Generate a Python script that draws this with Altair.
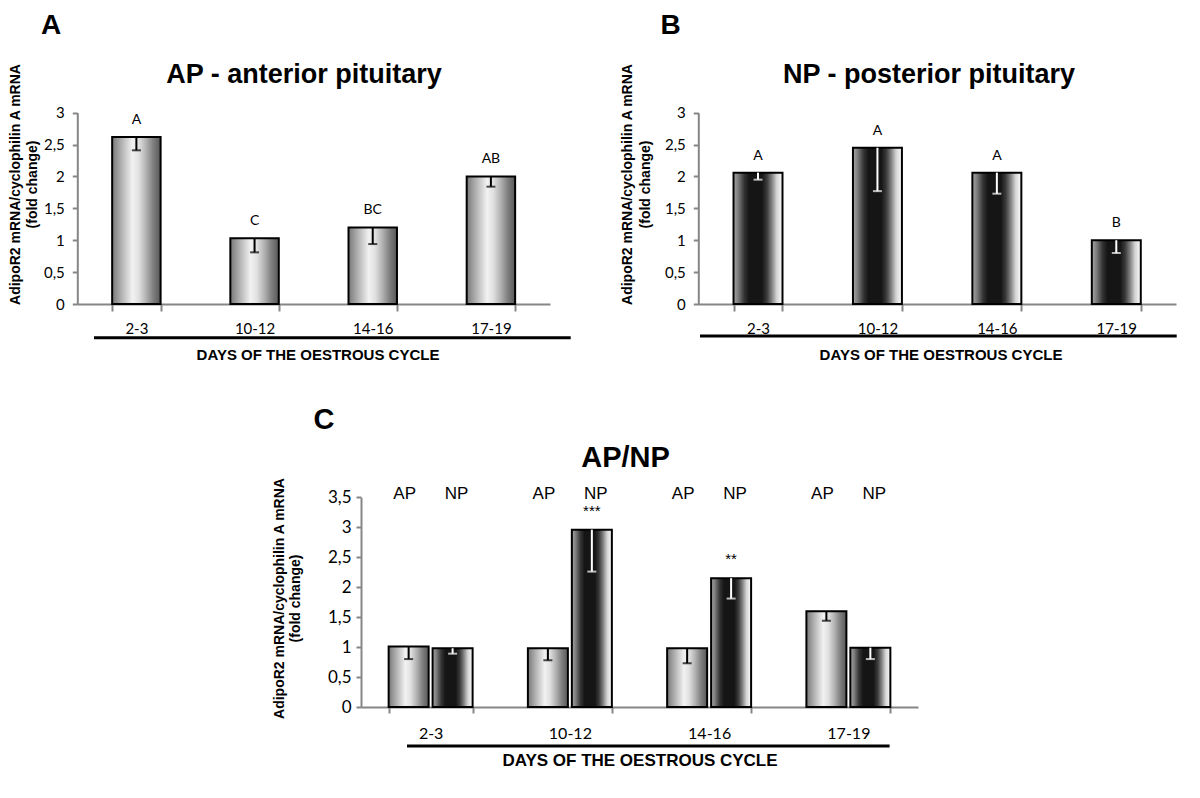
import altair as alt
import pandas as pd

# ---------------- data ----------------
days = ["2-3", "10-12", "14-16", "17-19"]

ap_mean = [2.62, 1.03, 1.20, 2.00]
ap_low = [2.41, 0.81, 0.94, 1.84]
ap_letters = ["A", "C", "BC", "AB"]

np_mean = [2.06, 2.45, 2.06, 1.00]
np_low = [1.95, 1.77, 1.73, 0.80]
np_letters = ["A", "A", "A", "B"]

tissues = ["AP", "NP"]
c_ap_mean = [1.01, 0.98, 0.98, 1.60]
c_ap_low = [0.80, 0.78, 0.73, 1.44]
c_np_mean = [0.98, 2.96, 2.15, 0.99]
c_np_low = [0.89, 2.26, 1.81, 0.80]
c_np_stars = ["", "***", "**", ""]

y_ticks_ab = [0, 0.5, 1, 1.5, 2, 2.5, 3]
y_ticks_c = [0, 0.5, 1, 1.5, 2, 2.5, 3, 3.5]

ytitle = ["AdipoR2 mRNA/cyclophilin A mRNA", "(fold change)"]
xtitle = "DAYS OF THE OESTROUS CYCLE"

dfA = pd.DataFrame({"day": days, "mean": ap_mean, "low": ap_low, "letter": ap_letters})
dfB = pd.DataFrame({"day": days, "mean": np_mean, "low": np_low, "letter": np_letters})
dfC = pd.DataFrame({
    "day": days * 2,
    "tissue": [tissues[0]] * 4 + [tissues[1]] * 4,
    "mean": c_ap_mean + c_np_mean,
    "low": c_ap_low + c_np_low,
    "star": [""] * 4 + c_np_stars,
})

# ---------------- styles ----------------
W, H = 1184, 780
GREY = "#868686"
SANS = "Liberation Sans"
NUM = "Lato"


def grad(stops):
    return alt.Gradient(
        gradient="linear", x1=0, x2=1, y1=0, y2=0,
        stops=[alt.GradientStop(offset=o, color=c) for o, c in stops],
    )


GRAD_AP = grad([(0, "#787878"), (0.17, "#ababab"), (0.42, "#f2f2f2"), (0.55, "#e0e0e0"),
                (0.7, "#b2b2b2"), (0.85, "#7e7e7e"), (1, "#585858")])
GRAD_NP = grad([(0, "#a8a8a8"), (0.1, "#7a7a7a"), (0.22, "#333333"), (0.32, "#151515"),
                (0.58, "#151515"), (0.68, "#3a3a3a"), (0.78, "#808080"), (0.88, "#d2d2d2"),
                (1, "#ffffff")])


def y_axis(axis_x, ticks, lab_size, lab_pad, t_x, t_y, t_lh):
    return alt.Axis(
        orient="left", offset=-axis_x, values=ticks, grid=False,
        labelExpr="replace(toString(datum.value), '.', ',')",
        domainColor=GREY, domainWidth=2, tickColor=GREY, tickWidth=2, tickSize=5,
        labelFont=NUM, labelFontSize=lab_size, labelColor="black", labelPadding=lab_pad,
        title=ytitle, titleFont=SANS, titleFontSize=14, titleFontWeight="bold",
        titleColor="black", titleAngle=-90, titleAlign="center", titleBaseline="middle",
        titleX=t_x, titleY=t_y, titleLineHeight=t_lh,
    )


def x_axis(axis_y, lab_size, lab_pad, tick_size):
    return alt.Axis(
        orient="bottom", offset=axis_y - H, title=None, labelAngle=0, grid=False,
        tickBand="extent", domainColor=GREY, domainWidth=2, tickColor=GREY, tickWidth=2,
        tickSize=tick_size, labelFont=NUM, labelFontSize=lab_size, labelColor="black",
        labelPadding=lab_pad,
    )


def single_panel(df, xr, yr, grad_fill, err_color, yaxis, xaxis):
    xs = alt.Scale(domain=days, range=xr, paddingInner=0.59, paddingOuter=0.295)
    ys = alt.Scale(domain=[0, 3], range=yr, nice=False)
    base = alt.Chart(df)
    xn = alt.X("day:N", sort=days, scale=xs, axis=None)
    bars = base.mark_bar(fill=grad_fill, stroke="black", strokeWidth=2).encode(
        x=alt.X("day:N", sort=days, scale=xs, axis=xaxis),
        y=alt.Y("mean:Q", scale=ys, axis=yaxis),
    )
    err = base.mark_rule(color=err_color, strokeWidth=2).encode(
        x=xn, y=alt.Y("mean:Q", scale=ys, axis=None), y2="low:Q")
    cap = base.mark_tick(orient="horizontal", size=9, thickness=2, color=err_color).encode(
        x=xn, y=alt.Y("low:Q", scale=ys, axis=None))
    let = base.mark_text(dy=-17, font=NUM, fontSize=14, color="black", baseline="middle").encode(
        x=xn, y=alt.Y("mean:Q", scale=ys, axis=None), text="letter:N")
    return [bars, err, cap, let]


layersA = single_panel(
    dfA, [69.3, 542], [296, 104.7], GRAD_AP, "black",
    y_axis(69.3, y_ticks_ab, 15, 8, -62, 176, 17),
    x_axis(296, 15, 10, 7),
)
layersB = single_panel(
    dfB, [690.3, 1168], [296, 104.7], GRAD_NP, "white",
    y_axis(690.3, y_ticks_ab, 15, 8, -71, 176, 18),
    x_axis(296, 15, 10, 7),
)

# panel C
xsC = alt.Scale(domain=days, range=[353, 910], paddingInner=0.397, paddingOuter=0.1985)
osC = alt.Scale(type="band", domain=tissues, paddingInner=0.09, paddingOuter=0)
ysC = alt.Scale(domain=[0, 3.5], range=[699, 489.3], nice=False)
colC = alt.Color("tissue:N", scale=alt.Scale(domain=tissues, range=["black", "white"]), legend=None)
xC = alt.X("day:N", sort=days, scale=xsC, axis=None)
oC = alt.XOffset("tissue:N", sort=tissues, scale=osC)
baseC = alt.Chart(dfC)

barsC_ap = baseC.transform_filter(alt.datum.tissue == "AP").mark_bar(
    fill=GRAD_AP, stroke="black", strokeWidth=2).encode(
    x=alt.X("day:N", sort=days, scale=xsC, axis=x_axis(699, 16, 12, 6)),
    xOffset=oC,
    y=alt.Y("mean:Q", scale=ysC, axis=y_axis(353, y_ticks_c, 17, 5, -81.4, 590, 15.6)),
)
barsC_np = baseC.transform_filter(alt.datum.tissue == "NP").mark_bar(
    fill=GRAD_NP, stroke="black", strokeWidth=2).encode(
    x=xC, xOffset=oC, y=alt.Y("mean:Q", scale=ysC, axis=None))
errC = baseC.mark_rule(strokeWidth=2).encode(
    x=xC, xOffset=oC, y=alt.Y("mean:Q", scale=ysC, axis=None), y2="low:Q", color=colC)
capC = baseC.mark_tick(orient="horizontal", size=9, thickness=2).encode(
    x=xC, xOffset=oC, y=alt.Y("low:Q", scale=ysC, axis=None), color=colC)
starC = baseC.mark_text(dy=-19, font=SANS, fontSize=15, color="black", baseline="middle").encode(
    x=xC, xOffset=oC, y=alt.Y("mean:Q", scale=ysC, axis=None), text="star:N")
tisAP = baseC.transform_filter(alt.datum.tissue == "AP").mark_text(
    dx=-4, dy=-3, font=SANS, fontSize=17, color="black", baseline="middle").encode(
    x=xC, xOffset=oC, y=alt.Y(datum=3.5, scale=ysC, axis=None), text="tissue:N")
tisNP = baseC.transform_filter(alt.datum.tissue == "NP").mark_text(
    dx=4, dy=-3, font=SANS, fontSize=17, color="black", baseline="middle").encode(
    x=xC, xOffset=oC, y=alt.Y(datum=3.5, scale=ysC, axis=None), text="tissue:N")
layersC = [barsC_ap, barsC_np, errC, capC, starC, tisAP, tisNP]


# ---------------- annotations ----------------
ONE = alt.Data(values=[{}])


def label(text, x, y, size, weight="bold", baseline="alphabetic", font=SANS):
    return alt.Chart(ONE).mark_text(
        text=text, font=font, fontSize=size, fontWeight=weight, align="center",
        baseline=baseline, color="black").encode(x=alt.value(x), y=alt.value(y))


def hline(x1, x2, y):
    return alt.Chart(ONE).mark_rule(color="black", strokeWidth=3).encode(
        x=alt.value(x1), x2=alt.value(x2), y=alt.value(y))


annotations = [
    label("A", 43, 26, 28), label("B", 662.5, 26, 28), label("C", 316, 421, 29),
    label("AP - anterior pituitary", 296, 75, 27),
    label("NP - posterior pituitary", 921, 75, 27),
    label("AP/NP", 617.5, 459, 29),
    label(xtitle, 310, 346.5, 15, baseline="middle"),
    label(xtitle, 933, 346.5, 15, baseline="middle"),
    label(xtitle, 632, 753, 17, baseline="middle"),
    hline(86, 562.7, 329.7), hline(692, 1168.7, 328), hline(399, 881.6, 738),
]

chart = alt.layer(*layersA, *layersB, *layersC, *annotations).resolve_scale(
    x="independent", y="independent", xOffset="independent", color="independent"
).properties(
    width=W, height=H, autosize=alt.AutoSizeParams(type="none"), padding=0,
    background="white",
).configure_view(stroke=None)

chart.save("out.html", embed_options={"renderer": "svg", "actions": False})
